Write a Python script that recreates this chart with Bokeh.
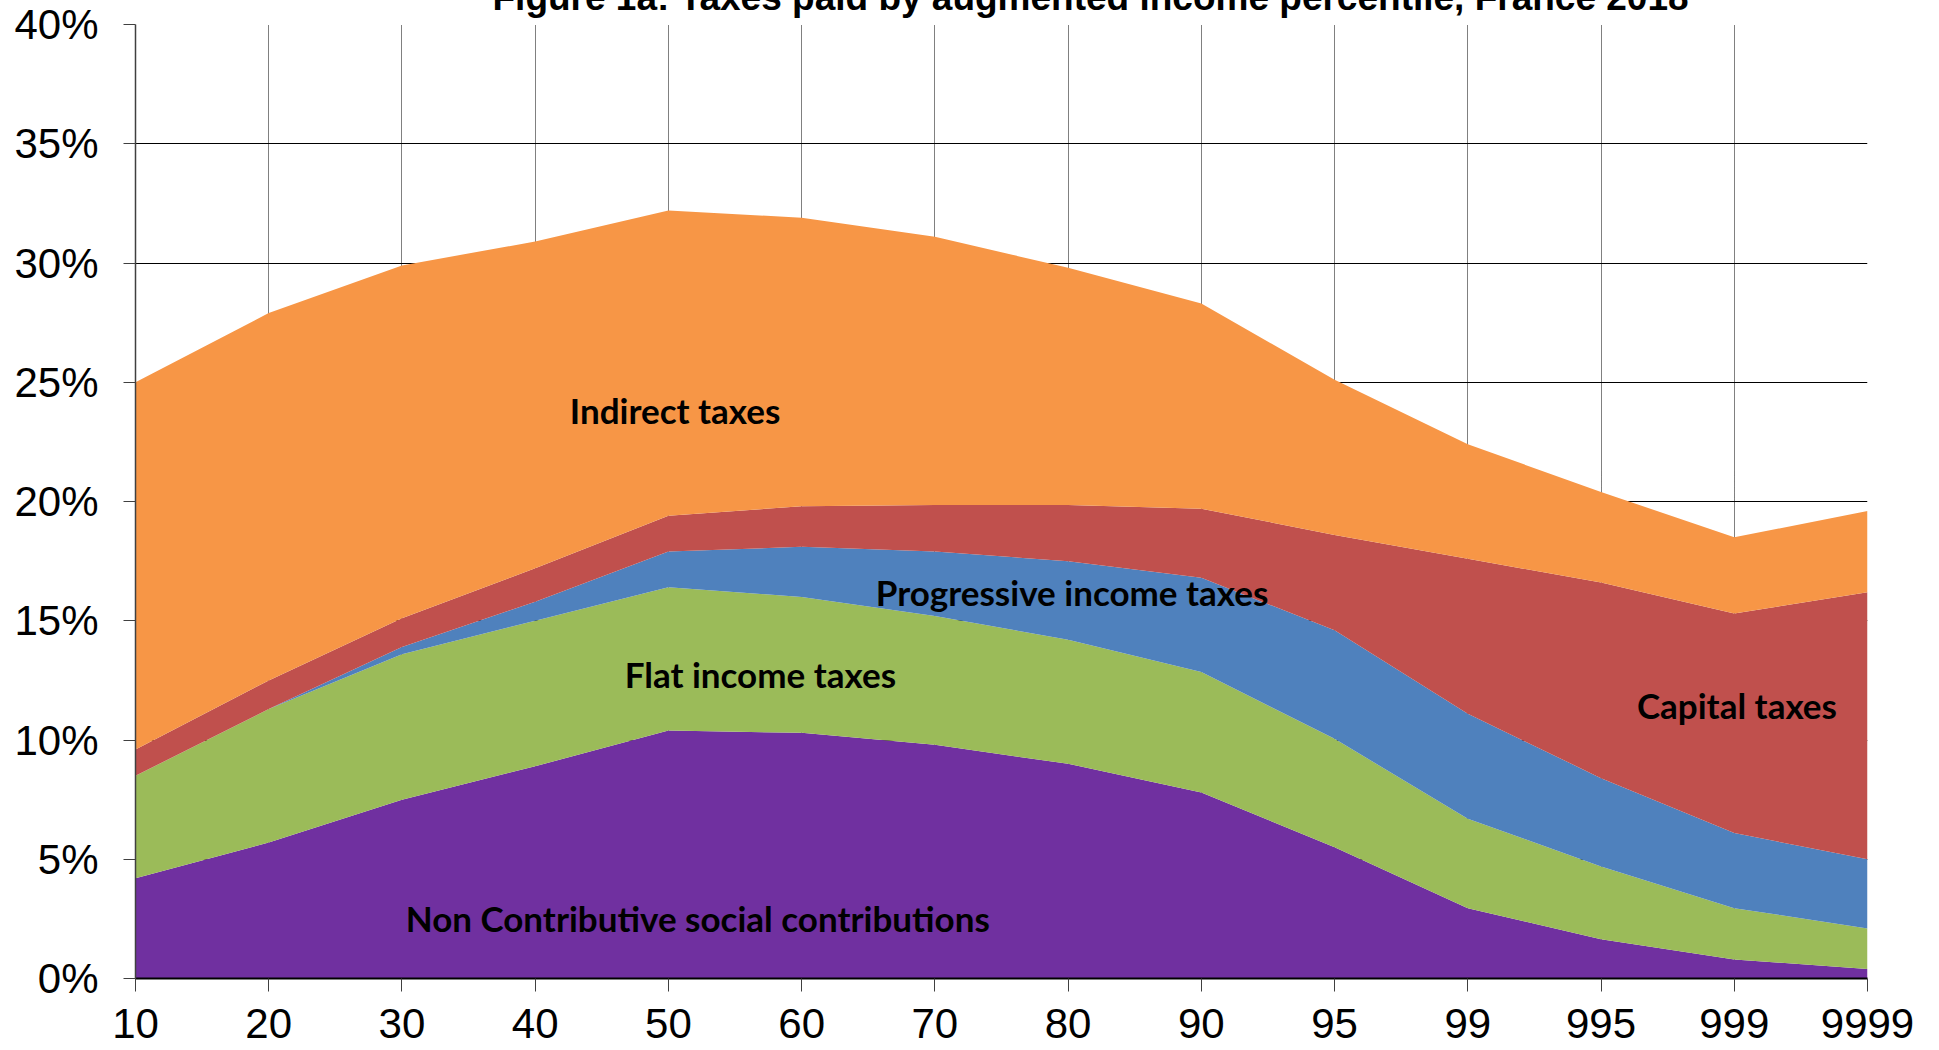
from bokeh.plotting import figure
from bokeh.models import ColumnDataSource, FixedTicker, Label, Title
from bokeh.embed import file_html
from bokeh.resources import INLINE

# ---- data (% of pre-tax income) ----
percentiles = ["10", "20", "30", "40", "50", "60", "70", "80", "90", "95", "99", "995", "999", "9999"]
non_contributive = [4.2, 5.7, 7.5, 8.9, 10.4, 10.3, 9.8, 9.0, 7.8, 5.5, 2.95, 1.65, 0.8, 0.4]
flat_income = [4.3, 5.6, 6.1, 6.1, 6.0, 5.7, 5.4, 5.2, 5.05, 4.55, 3.75, 3.05, 2.15, 1.7]
progressive_income = [0.0, 0.0, 0.3, 0.8, 1.5, 2.1, 2.7, 3.3, 3.95, 4.55, 4.4, 3.7, 3.15, 2.9]
capital = [1.1, 1.2, 1.2, 1.4, 1.5, 1.7, 1.95, 2.35, 2.9, 4.0, 6.5, 8.2, 9.2, 11.2]
indirect = [15.4, 15.4, 14.8, 13.7, 12.8, 12.1, 11.25, 9.95, 8.6, 6.5, 4.8, 3.8, 3.2, 3.4]
y_ticks = [0, 5, 10, 15, 20, 25, 30, 35, 40]

series_names = ["non_contributive", "flat_income", "progressive_income", "capital", "indirect"]
colors = ["#7030A0", "#9BBB59", "#4F81BD", "#C0504D", "#F79646"]

source = ColumnDataSource(dict(
    x=list(range(len(percentiles))),
    non_contributive=non_contributive,
    flat_income=flat_income,
    progressive_income=progressive_income,
    capital=capital,
    indirect=indirect,
))

p = figure(width=1923, height=1048, x_range=(0, len(percentiles) - 1), y_range=(0, 40),
           output_backend="svg", toolbar_location=None,
           min_border_left=135, min_border_right=56, min_border_top=24, min_border_bottom=70)
p.outline_line_color = None
p.background_fill_color = "white"
p.border_fill_color = "white"

p.varea_stack(stackers=series_names, x="x", color=colors, source=source)

# axes
tick_font = "Liberation Sans"
p.xaxis.ticker = FixedTicker(ticks=list(range(len(percentiles))))
p.xaxis.major_label_overrides = {i: lab for i, lab in enumerate(percentiles)}
p.yaxis.ticker = FixedTicker(ticks=y_ticks)
p.yaxis.major_label_overrides = {t: f"{t}%" for t in y_ticks}
for ax in (p.xaxis, p.yaxis):
    ax.major_label_text_font = tick_font
    ax.major_label_text_font_size = "42px"
    ax.major_label_text_color = "black"
    ax.minor_tick_line_color = None
    ax.major_tick_in = 0
    ax.major_tick_line_color = "#404040"
    ax.major_tick_line_width = 1
p.xaxis.major_tick_out = 13
p.xaxis.major_label_standoff = 17
p.xaxis.axis_line_color = "black"
p.xaxis.axis_line_width = 2
p.yaxis.major_tick_out = 12
p.yaxis.major_label_standoff = 25
p.yaxis.axis_line_color = "#404040"
p.yaxis.axis_line_width = 1.5

# grids
p.ygrid.ticker = FixedTicker(ticks=y_ticks)
p.ygrid.grid_line_color = "black"
p.ygrid.grid_line_width = 1
p.xgrid.ticker = FixedTicker(ticks=list(range(len(percentiles))))
p.xgrid.grid_line_color = "black"
p.xgrid.grid_line_width = 1
p.xgrid.grid_line_dash = "1 1"

# in-chart labels
lab_font = "Lato"
labels = [
    ("Indirect taxes", 4.05, 23.85),
    ("Progressive income taxes", 7.03, 16.2),
    ("Flat income taxes", 4.69, 12.75),
    ("Capital taxes", 12.02, 11.45),
    ("Non Contributive social contributions", 4.22, 2.55),
]
for txt, lx, ly in labels:
    p.add_layout(Label(x=lx, y=ly, text=txt, text_font=lab_font, text_font_style="bold",
                       text_font_size="35px", text_align="center", text_baseline="middle",
                       text_color="black"))

# title: sits at the very top edge, partly cut off as in the original
title = Title(text="Figure 1a: Taxes paid by augmented income percentile, France 2018",
              text_font="Liberation Sans", text_font_style="bold", text_font_size="37px",
              align="left", offset=492 - 135, standoff=-96, vertical_align="top",
              text_color="black")
p.add_layout(title, "above")

open("out.html", "w").write(file_html(p, INLINE))
